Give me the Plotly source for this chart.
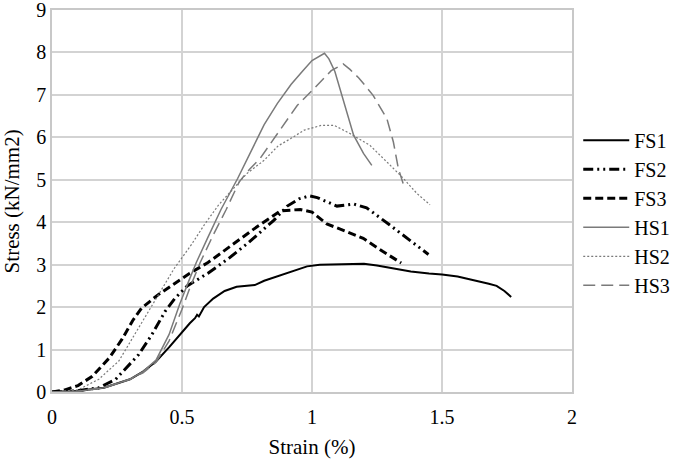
import plotly.graph_objects as go

# stress-strain curves, full section (FS) and hollow section (HS) specimens
fs1_x = [0, 0.1, 0.2, 0.3, 0.35, 0.4, 0.45, 0.5, 0.53, 0.55, 0.558, 0.565, 0.585, 0.62, 0.664, 0.71,
         0.78, 0.816, 0.88, 0.94, 0.981, 1.03, 1.1, 1.2, 1.25, 1.3, 1.38, 1.45, 1.5, 1.56, 1.62, 1.68,
         1.71, 1.74, 1.766]
fs1_y = [0, 0.03, 0.1, 0.3, 0.48, 0.72, 1.05, 1.42, 1.62, 1.74, 1.82, 1.78, 2.0, 2.2, 2.38, 2.48,
         2.52, 2.62, 2.75, 2.88, 2.96, 3.0, 3.01, 3.02, 2.98, 2.92, 2.84, 2.79, 2.77, 2.72, 2.64, 2.55,
         2.5, 2.38, 2.24]

fs2_x = [0, 0.1, 0.18, 0.245, 0.333, 0.384, 0.435, 0.472, 0.52, 0.6, 0.68, 0.752, 0.854, 0.905,
         0.95, 0.99, 1.02, 1.096, 1.16, 1.21, 1.298, 1.374, 1.448]
fs2_y = [0, 0.03, 0.1, 0.3, 0.88, 1.35, 1.9, 2.2, 2.5, 2.8, 3.15, 3.5, 4.05, 4.38,
         4.55, 4.62, 4.58, 4.38, 4.43, 4.34, 3.94, 3.58, 3.24]

fs3_x = [0, 0.05, 0.1, 0.155, 0.22, 0.27, 0.31, 0.345, 0.41, 0.47, 0.53, 0.6, 0.69, 0.79, 0.88,
         0.955, 1.0, 1.057, 1.133, 1.197, 1.273, 1.343]
fs3_y = [0, 0.05, 0.15, 0.37, 0.8, 1.25, 1.68, 1.98, 2.3, 2.55, 2.8, 3.05, 3.45, 3.9, 4.27,
         4.3, 4.24, 3.96, 3.78, 3.62, 3.31, 3.04]

hs1_x = [0, 0.1, 0.2, 0.3, 0.35, 0.4, 0.45, 0.49, 0.525, 0.555, 0.6, 0.65, 0.714, 0.76, 0.816,
         0.867, 0.92, 0.965, 1.0, 1.048, 1.065, 1.088, 1.12, 1.16, 1.198, 1.23]
hs1_y = [0, 0.02, 0.1, 0.3, 0.48, 0.75, 1.35, 2.05, 2.6, 3.05, 3.65, 4.3, 5.03, 5.6, 6.3,
         6.8, 7.25, 7.57, 7.81, 7.98, 7.85, 7.55, 6.91, 6.05, 5.62, 5.34]

hs2_x = [0, 0.1, 0.18, 0.257, 0.333, 0.41, 0.47, 0.536, 0.587, 0.64, 0.69, 0.75, 0.816, 0.87,
         0.918, 0.97, 1.035, 1.086, 1.146, 1.223, 1.288, 1.352, 1.403, 1.454]
hs2_y = [0, 0.05, 0.3, 0.73, 1.51, 2.29, 2.91, 3.47, 3.95, 4.4, 4.75, 5.15, 5.46, 5.8,
         5.97, 6.17, 6.28, 6.28, 6.09, 5.81, 5.42, 5.03, 4.68, 4.41]

hs3_x = [0, 0.1, 0.2, 0.3, 0.35, 0.4, 0.45, 0.5, 0.53, 0.57, 0.62, 0.67, 0.72, 0.76, 0.8, 0.867,
         0.943, 1.0, 1.074, 1.12, 1.146, 1.18, 1.235, 1.288, 1.313, 1.332, 1.352]
hs3_y = [0, 0.02, 0.1, 0.3, 0.45, 0.7, 1.2, 1.95, 2.45, 3.05, 3.7, 4.3, 4.95, 5.25, 5.5, 6.1,
         6.75, 7.1, 7.57, 7.73, 7.6, 7.4, 6.99, 6.44, 5.89, 5.27, 4.88]

gray = "#7a7a7a"
series = [
    ("FS1", fs1_x, fs1_y, "black", 2, "solid"),
    ("FS2", fs2_x, fs2_y, "black", 3, "10px,4px,2px,4px,2px,4px"),
    ("FS3", fs3_x, fs3_y, "black", 3, "8px,4px"),
    ("HS1", hs1_x, hs1_y, gray, 1.5, "solid"),
    ("HS2", hs2_x, hs2_y, gray, 1.2, "2px,2px"),
    ("HS3", hs3_x, hs3_y, gray, 1.5, "12px,6px"),
]

fig = go.Figure()
for name, xs, ys, col, w, dash in series:
    fig.add_trace(go.Scatter(x=xs, y=ys, name=name, mode="lines",
                             line=dict(color=col, width=w, dash=dash)))

serif = "Liberation Serif"
txt = dict(family=serif, size=20, color="black")
fig.update_layout(
    width=685, height=459,
    margin=dict(l=52, r=108, t=10, b=67),
    paper_bgcolor="white", plot_bgcolor="white",
    font=txt,
    legend=dict(x=1.012, xanchor="left", y=0.71, yanchor="top", itemwidth=46,
                font=txt, bgcolor="rgba(0,0,0,0)"),
)
# y title as an annotation so it can sit closer to the left edge
fig.add_annotation(text="Stress (kN/mm2)", textangle=-90, xref="paper", yref="paper",
                   x=(12 - 52) / 525, y=0.5, xanchor="center", yanchor="middle",
                   showarrow=False, font=dict(family=serif, size=21, color="black"))
fig.update_xaxes(range=[0, 2], dtick=0.5, showgrid=True, gridcolor="#d3d3d3", gridwidth=1.5,
                 showline=True, linecolor="#c8c8c8", linewidth=1.5, mirror=True, zeroline=False,
                 automargin=False, ticklabeloverflow="allow", ticklabelstandoff=6,
                 tickfont=txt,
                 title=dict(text="Strain (%)", standoff=14,
                            font=dict(family=serif, size=21, color="black")))
fig.update_yaxes(range=[0, 9], dtick=1, showgrid=True, gridcolor="#d3d3d3", gridwidth=1.5,
                 showline=True, linecolor="#c8c8c8", linewidth=1.5, mirror=True, zeroline=False,
                 automargin=False, ticklabeloverflow="allow", tickfont=txt)

fig.write_html("out.html", config={"displayModeBar": False},
               post_script="document.body.style.margin='0';")
